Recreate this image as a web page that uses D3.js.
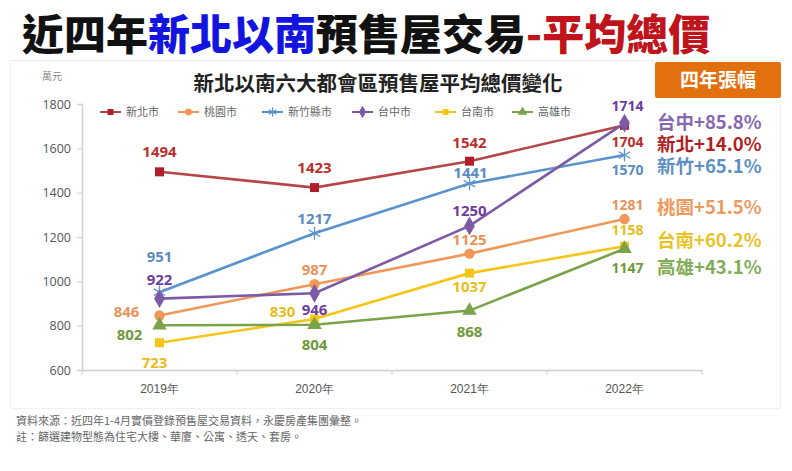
<!DOCTYPE html>
<html><head><meta charset="utf-8">
<script src="https://cdn.jsdelivr.net/npm/d3@7/dist/d3.min.js"></script>
<style>body{margin:0;background:#fff;}svg{display:block;font-family:"Noto Sans CJK TC","Noto Sans",sans-serif;}</style>
</head><body>
<script>
const years = ["2019年","2020年","2021年","2022年"];
const cities = ["新北市","桃園市","新竹縣市","台中市","台南市","高雄市"];
const xinbei = [1494,1423,1542,1704];
const taoyuan = [846,987,1125,1281];
const hsinchu = [951,1217,1441,1570];
const taichung = [922,946,1250,1714];
const tainan = [723,830,1037,1158];
const kaohsiung = [802,804,868,1147];
const yTicks = [600,800,1000,1200,1400,1600,1800];
const growthLabels = ["台中+85.8%","新北+14.0%","新竹+65.1%","桃園+51.5%","台南+60.2%","高雄+43.1%"];

// styling / layout (not data)
const lineColors = ["#B5474A","#F0985A","#5B93CC","#7D5AA6","#F5C518","#7BA34A"];
const labelColors = ["#B8302E","#E8935A","#5A8CC0","#6E3D9E","#E6BE1C","#6E9A3A"];
const markers = ["square","circle","star","diamond","square","triangle"];
const labelOffsets = [
  [[0,-20],[0,-20],[0,-19],[3,17]],
  [[-33,-4],[0,-15],[0,-14],[3,-14]],
  [[0,-36],[0,-15],[1,-11],[3,15]],
  [[0,-19],[0,16],[0,-15],[3,-17]],
  [[-5,20],[-32,-7],[0,13],[3,-16]],
  [[-30,9],[0,20],[0,21],[3,19]]
];
const growthY = [122,144,166,207,240,267];
const growthColors = ["#8768B0","#B01E23","#5C8FC4","#EE9A5E","#E9C224","#82AC55"];

const series = [xinbei,taoyuan,hsinchu,taichung,tainan,kaohsiung];
const W=792,H=471;
const svg=d3.select("body").append("svg").attr("width",W).attr("height",H);

// frame
svg.append("rect").attr("x",10.5).attr("y",60.5).attr("width",770).attr("height",348)
  .attr("fill","none").attr("stroke","#f0f0f0");

// title
const t=svg.append("text").attr("x",22).attr("y",50).attr("font-size",42).attr("font-weight",900);
t.append("tspan").attr("fill","#111").text("近四年");
t.append("tspan").attr("fill","#1414E0").text("新北以南");
t.append("tspan").attr("fill","#111").text("預售屋交易");
t.append("tspan").attr("fill","#C0141C").text("-平均總價");

svg.append("text").attr("x",378).attr("y",91).attr("text-anchor","middle").attr("font-size",20.5)
  .attr("font-weight",700).attr("fill","#222").text("新北以南六大都會區預售屋平均總價變化");
svg.append("text").attr("x",42).attr("y",80).attr("font-size",10).attr("fill","#888").text("萬元");

const x=d3.scaleBand().domain(years).range([82,702]);
const y=d3.scaleLinear().domain([600,1800]).range([370,104]);

// axes
const ya=svg.append("g").attr("transform","translate(82,0)")
  .call(d3.axisLeft(y).tickValues(yTicks).tickSize(5).tickPadding(6).tickFormat(d3.format("d")));
ya.select(".domain").attr("stroke","#d0d0d0").attr("stroke-width",1.5);
ya.selectAll(".tick line").attr("stroke","#d0d0d0");
ya.selectAll("text").attr("font-size",12.5).attr("fill","#555").attr("font-family","'Open Sans',sans-serif");

const xa=svg.append("g").attr("transform","translate(0,370)")
  .call(d3.axisBottom(x).tickSize(0).tickPadding(14));
xa.select(".domain").attr("stroke","#cfcfcf").attr("stroke-width",1.5);
xa.selectAll("text").attr("font-size",12).attr("fill","#555");
x.domain().concat(["end"]).forEach((d,i)=>{
  const xx = i<4 ? x(d) : x.range()[1];
  xa.append("line").attr("x1",xx).attr("x2",xx).attr("y1",0).attr("y2",5).attr("stroke","#cfcfcf");
});

function drawMarker(g,type,cx,cy,color,s){
  if(type==="square"){
    g.append("rect").attr("x",cx-s).attr("y",cy-s).attr("width",2*s).attr("height",2*s).attr("fill",color);
  } else if(type==="circle"){
    g.append("circle").attr("cx",cx).attr("cy",cy).attr("r",s*1.15).attr("fill",color);
  } else if(type==="diamond"){
    g.append("path").attr("d",d3.symbol(d3.symbolDiamond,s*s*5)()).attr("transform",`translate(${cx},${cy})`).attr("fill",color);
  } else if(type==="triangle"){
    g.append("path").attr("d",d3.symbol(d3.symbolTriangle,s*s*4.5)()).attr("transform",`translate(${cx},${cy})`).attr("fill",color);
  } else if(type==="star"){
    g.append("path").attr("d",d3.symbol(d3.symbolAsterisk,s*s*6)()).attr("transform",`translate(${cx},${cy})`)
      .attr("fill","none").attr("stroke",color).attr("stroke-width",1.3);
  }
}

const line=d3.line().x((d,i)=>x(years[i])+x.bandwidth()/2).y(d=>y(d));
series.forEach((vals,si)=>{
  const g=svg.append("g");
  g.append("path").datum(vals).attr("d",line).attr("fill","none").attr("stroke",lineColors[si]).attr("stroke-width",2.6);
  vals.forEach((v,i)=>{
    const cx=x(years[i])+x.bandwidth()/2, cy=y(v);
    drawMarker(g,markers[si],cx,cy,lineColors[si]==="#B5474A"?"#B01E2A":lineColors[si],4.5);
  });
});
// data labels
series.forEach((vals,si)=>{
  vals.forEach((v,i)=>{
    const cx=x(years[i])+x.bandwidth()/2, cy=y(v);
    const o=labelOffsets[si][i];
    svg.append("text").attr("x",cx+o[0]).attr("y",cy+o[1]).attr("dy","0.36em").attr("text-anchor","middle")
      .attr("font-size",i===3?14:15).attr("font-weight",700).attr("fill",labelColors[si])
      .attr("font-family","'Open Sans',sans-serif").text(v);
  });
});

// legend
const legX=[100,178,262,352,435,512];
cities.forEach((c,i)=>{
  const g=svg.append("g");
  g.append("line").attr("x1",legX[i]).attr("x2",legX[i]+21).attr("y1",112).attr("y2",112).attr("stroke",lineColors[i]).attr("stroke-width",2);
  drawMarker(g,markers[i],legX[i]+10.5,112,lineColors[i]==="#B5474A"?"#B01E2A":lineColors[i],3);
  g.append("text").attr("x",legX[i]+26).attr("y",116).attr("font-size",11).attr("fill","#666").text(c);
});

// growth box
svg.append("rect").attr("x",655).attr("y",62).attr("width",126).attr("height",36).attr("rx",2).attr("fill","#E2700F");
svg.append("text").attr("x",718).attr("y",87).attr("text-anchor","middle").attr("font-size",19).attr("font-weight",700)
  .attr("fill","#fff").text("四年張幅");
growthLabels.forEach((g,i)=>{
  svg.append("text").attr("x",657).attr("y",growthY[i]).attr("dy","0.36em").attr("font-size",18.5).attr("font-weight",700)
    .attr("fill",growthColors[i]).text(g);
});

// footnote
svg.append("text").attr("x",16).attr("y",425).attr("font-size",11).attr("fill","#666").text("資料來源：近四年1-4月實價登錄預售屋交易資料，永慶房產集團彙整。");
svg.append("text").attr("x",16).attr("y",441).attr("font-size",11).attr("fill","#666").text("註：篩選建物型態為住宅大樓、華廈、公寓、透天、套房。");
</script>
</body></html>
